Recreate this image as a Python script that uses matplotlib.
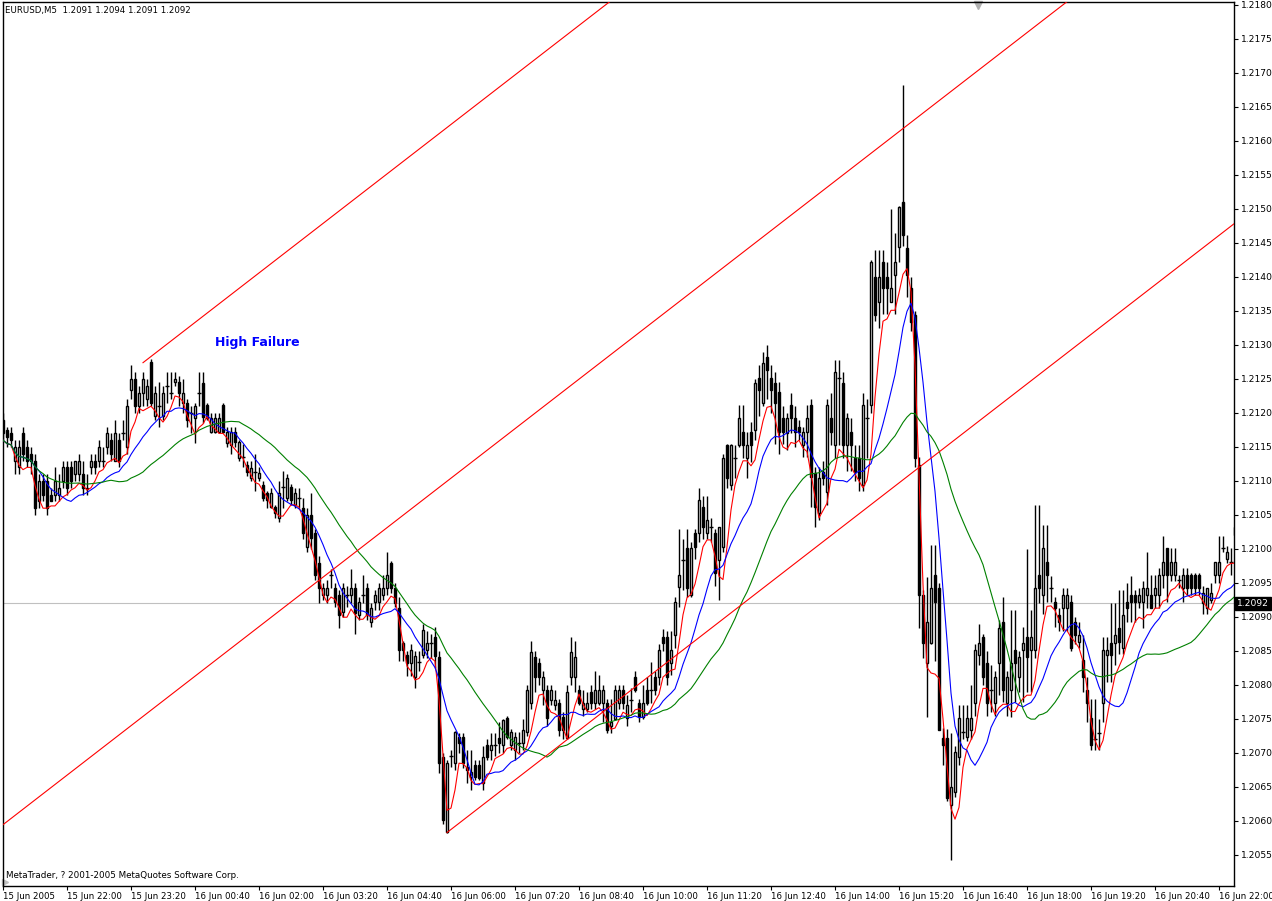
import numpy as np
import pandas as pd
import matplotlib
matplotlib.use("Agg")
import matplotlib.pyplot as plt
from matplotlib.transforms import blended_transform_factory

# EURUSD M5 bars, prices given in pips above 1.2000 (first bar = 15 Jun 20:40)
opens = [
    117, 117.5, 117, 113, 112, 117, 115, 114, 113, 107, 110, 110, 108, 108, 108, 110,
    112, 112, 111, 111, 111, 109, 112, 113, 113, 113, 115, 116, 113, 116, 117, 115,
    123.4, 125, 121, 123, 122, 127.5, 119.5, 121, 119.5, 124, 123, 124.5, 124.5, 121.5, 121.5, 120,
    119.3, 123, 124.4, 121.2, 117.2, 117.2, 117.2, 121.2, 115.6, 115.3, 117.2, 113.4, 113.5, 112.4, 110.4, 111.3,
    110.4, 109.4, 108.3, 106.2, 106.2, 104.6, 109.1, 107.5, 109.1, 106.5, 107.5, 106, 100.3, 105, 102.4, 98,
    93.2, 93.2, 96.2, 94.3, 93.2, 90.8, 93.2, 93.2, 94.3, 90.3, 93.2, 94.3, 89.3, 92.2, 92.2, 93.2,
    94.3, 98, 94.3, 91.3, 86.2, 84.4, 83.2, 81.2, 83.4, 84.4, 85.2, 86.2, 87.1, 84.1, 69.4, 58.4,
    69.5, 68.5, 72.4, 72.4, 68, 66.5, 68.2, 68.2, 65.6, 71.2, 70.4, 71.2, 72.2, 71.2, 75.1, 71.2,
    70.4, 71.5, 71.5, 73.1, 77.4, 84.1, 83.2, 79.3, 79.3, 77.8, 77.1, 77.4, 75.3, 72.2, 81.2, 81.2,
    79.3, 76.5, 76.5, 79.0, 77.4, 77.4, 77.4, 77.4, 74, 75, 77.4, 79.3, 75.1, 77.8, 81.2, 77.4,
    75.3, 79.3, 79.3, 81.2, 81.2, 87.1, 87.1, 83.2, 87.4, 94.4, 98.4, 100.1, 93.2, 102.4, 102.4, 106.2,
    102.4, 103.2, 102.4, 98.4, 100.3, 115.3, 109.4, 113.4, 115.3, 117.2, 113.4, 117.2, 117.5, 125.1, 121.5, 128.2,
    125.1, 124.4, 123.1, 119.3, 117.1, 121.2, 119.3, 118, 115.3, 117.2, 121.2, 111.2, 105.3, 111.3, 108.4, 119.3,
    115.3, 125.1, 124.4, 115.3, 117.2, 113.4, 113.4, 109.4, 119.3, 121.2, 140.0, 136.3, 142.2, 140.0, 136.3, 140.3,
    144.4, 151.0, 144.3, 138.4, 134.4, 112.4, 93.2, 83.2, 86.2, 96.2, 94.3, 72.2, 72.2, 62.4, 64.3, 69.4,
    73.1, 72.4, 73.4, 77.4, 84.4, 87.1, 83.2, 79.3, 77.4, 83.2, 89.3, 77.4, 79.3, 85.1, 81.2, 85.1,
    87.1, 85.1, 85.1, 96.2, 93.2, 98.1, 94.3, 92.2, 90.3, 91.3, 91.3, 92.2, 89.3, 86.3, 83.7, 79.3,
    75.1, 72, 73, 77.4, 84.4, 86.2, 86.2, 88.4, 85.4, 92.2, 93.2, 93.2, 92.2, 92.2, 93.2, 93.2,
    93.2, 93.2, 96.2, 100.1, 96.2, 96.2, 95.5, 94.3, 96.2, 96.2, 96.2, 96.2, 92, 91.3, 92.5, 96.2,
    96.2, 100.1, 98.5, 98.1, 102,
]
highs = [
    120, 118, 118, 116, 116, 118, 116, 115, 114, 111, 111, 111, 109, 112, 111, 113,
    113, 113, 113, 114, 113, 111, 114, 114, 116, 115, 118, 117, 119, 117, 119, 122,
    127, 126, 124, 126, 125, 128, 124, 124.5, 124, 126, 126, 126, 125.5, 125, 122, 121,
    121.5, 126, 126, 121.5, 120, 120, 120, 121.5, 118, 118, 118, 116, 115.5, 113, 113, 114,
    112, 110, 108.5, 109, 106.5, 110, 111.5, 111, 109.5, 109, 109, 107.5, 106, 108.2, 103, 99,
    95, 95.5, 97, 95, 94, 95, 94.5, 97, 95, 93, 96.2, 95, 92, 94, 95, 96.2,
    99.5, 98.3, 95, 93, 86.5, 85, 86, 85, 85, 89, 88, 87.5, 88.5, 85, 70, 69,
    70.4, 73.3, 73, 73, 70.4, 70.4, 69, 69, 71, 72, 73, 73, 74.5, 75, 75.5, 73.5,
    73.1, 73.1, 75, 80, 86.5, 85, 84, 82, 80, 80, 79.3, 78, 76, 80, 87, 86.5,
    80, 79.3, 79, 80, 82, 81.5, 80, 78, 78, 80, 80, 80, 78.5, 79.5, 82, 78,
    80, 81.2, 83.4, 82, 86, 88.2, 88, 88, 93, 103, 101.5, 103, 101, 103, 109, 107.8,
    107.8, 104.5, 103, 103.2, 114, 115.5, 115.5, 115.3, 121.2, 121.2, 117.2, 118.7, 125, 127, 129, 130,
    127, 126, 124.5, 121, 120, 123, 121, 119, 118, 121.2, 122, 112, 112, 113, 122, 123,
    127.8, 127.8, 126, 120, 119.3, 115.3, 115.3, 123, 122, 142.5, 144, 144, 144, 142.2, 150, 146.5,
    150.5, 168.2, 146.2, 140, 135, 113.5, 94, 95.9, 100.6, 100.6, 95, 73.7, 73.5, 73, 71, 77,
    77, 77, 80, 86, 89, 87.5, 85, 83, 82, 89.5, 93, 82, 91, 91, 85, 88.5,
    100, 91, 106.5, 106.5, 103.5, 103.5, 96, 93, 91.3, 94.3, 94.3, 93.2, 90, 89.3, 87.4, 81.2,
    78, 78, 75, 87, 87, 92, 92, 94, 94, 95, 96, 94, 94.3, 95.3, 99.5, 96.2,
    96.2, 97.2, 101.9, 100.1, 100.1, 100.1, 96.2, 97.2, 97.2, 96.5, 96.5, 96.5, 94.5, 94.3, 95, 98.1,
    101.9, 101.9, 100.5, 100.1, 106,
]
lows = [
    116, 115, 115, 111, 111, 113, 112, 111, 105, 106, 107, 105, 107, 107, 107, 109,
    108, 109, 110, 110, 108, 108, 111, 111, 112, 112, 114, 113, 113, 112, 116, 114,
    122, 120, 120, 121, 121, 121, 119, 118, 119, 121.5, 122, 124, 121, 120, 118, 117,
    115.6, 121, 118.5, 119, 117, 117, 117, 117, 115, 114, 115, 113, 112, 110.8, 110, 108.6,
    110, 107, 106, 106, 104.5, 104, 106, 107, 106.5, 106, 106, 101.5, 99.5, 100, 95.5, 92,
    92.5, 92, 94.3, 91.5, 88.4, 90, 91.5, 92, 87.5, 89.5, 92, 89.5, 88.5, 91, 91, 92.5,
    93.2, 93.5, 91.5, 83.5, 83.5, 81.3, 81.3, 79.6, 82, 84, 84, 84, 82.5, 67, 59.5, 58.2,
    68, 67.5, 70, 67.8, 65.6, 64.5, 66, 66, 64.5, 69, 69, 69.5, 70, 70, 72, 70.5,
    69, 70, 70.5, 72.5, 76.5, 79, 80, 77, 74, 77, 76.3, 72.5, 72, 72, 80, 79,
    77, 75.5, 76, 76.5, 76.5, 77, 74.5, 73, 73, 75, 76.5, 76.5, 74, 76, 79, 74.5,
    75, 77, 77.4, 78.5, 80, 85, 80, 81.5, 85.5, 91.5, 94, 93, 93, 98.5, 101, 101.5,
    101.5, 101, 94.5, 92.5, 99.5, 109, 108.7, 110.5, 115, 113.4, 110.5, 112.8, 116, 119.5, 121, 122,
    120, 115.5, 114, 115.5, 114.5, 117, 115, 116, 113.5, 113.5, 106.2, 103.2, 104.3, 109.4, 106.5, 115.3,
    113.4, 115.3, 113.4, 111.5, 111.5, 110, 108.5, 108.5, 113.4, 120, 133.5, 132.5, 134.5, 134.5, 136.3, 134.5,
    142.2, 144.5, 137, 132, 112, 88.4, 84, 75.3, 86, 83.5, 73.4, 68.2, 63, 54.3, 63.5, 68.2,
    72, 71.8, 72, 75.5, 83, 80, 75.5, 76, 75.5, 78.5, 77.5, 75.5, 75.3, 77.5, 79, 77.5,
    79, 79, 84, 92, 90.5, 92.2, 92.2, 88.5, 88, 88, 88, 85, 86, 85.4, 79, 74.5,
    70.5, 70.5, 70.5, 74.5, 80.5, 80.5, 83, 84.6, 84.5, 89.3, 89.3, 89.3, 91.3, 88.4, 91.3, 91.3,
    91.3, 91.3, 94.3, 92.2, 95.3, 95.3, 94.3, 92.2, 93.2, 93.2, 93.2, 93.2, 90.5, 90.5, 92, 95,
    95, 99.5, 98, 96.2, 99.5,
]
closes = [
    119, 116.5, 116, 115, 115, 114, 113, 113, 106, 110, 108, 106, 107, 110, 109, 112,
    109, 110, 113, 113, 109, 108.8, 113, 112, 115, 113, 117, 114, 117, 113, 117, 121,
    125, 121, 123, 125, 124, 121.5, 123, 121, 123, 124, 123, 125, 123, 123, 119, 120,
    121, 123, 119.4, 119.3, 119.3, 119.3, 119.3, 117.2, 117.2, 117.2, 115.7, 115.7, 113.5, 111.3, 111.9, 111.3,
    111.2, 107.5, 107.2, 108.3, 105.3, 108.2, 109.1, 110.4, 107.2, 108.2, 107.5, 102.4, 105, 101.6, 96.2, 94.3,
    94.3, 94.3, 96.2, 92.2, 90.3, 94.3, 93.2, 94.3, 90.6, 92.2, 93.2, 90.3, 91.3, 93.2, 94.3, 94.3,
    96.2, 94.3, 92, 85.2, 85.2, 83.2, 85.2, 84.2, 83.4, 88.1, 86.2, 86.2, 84.2, 68.5, 60.1, 68.5,
    69.5, 73.1, 71.5, 68.5, 67.5, 67.2, 66.5, 66.3, 69.4, 69.4, 71.2, 71.2, 71.5, 74.9, 72.4, 73.1,
    72.4, 71.5, 73.4, 79.3, 84.9, 81.2, 81.2, 81.2, 75.1, 79.3, 77.8, 73.4, 73.4, 79.0, 84.9, 84.1,
    77.4, 77.4, 77.4, 77.4, 79.3, 79.3, 79.3, 73.4, 74.5, 79.3, 79.3, 77.4, 77.1, 77.8, 79.3, 75.3,
    77.4, 77.4, 79.3, 79.3, 85.1, 86.2, 81.2, 85.1, 92.2, 96.2, 98.4, 94.3, 100.1, 100.3, 107.2, 103.2,
    104.3, 103.2, 96.5, 103.2, 113.4, 110.4, 115.3, 113.4, 119.3, 115.3, 115.3, 115.3, 124.4, 123.4, 127.4, 126.3,
    123.4, 121.5, 117.2, 117.2, 119.3, 119.3, 117.2, 117.2, 117.2, 119.3, 110.6, 106.2, 110.4, 110.4, 121.2, 117.2,
    126.0, 125.1, 115.3, 119.3, 115.3, 111.3, 110.4, 121.2, 119.3, 142.2, 134.4, 140.0, 138.4, 138.4, 138.4, 142.2,
    150.3, 146.2, 140.3, 133.4, 113.4, 93.2, 86.2, 89.3, 94.3, 92.2, 73.4, 71.2, 63.4, 65.0, 70.1, 75.1,
    73.1, 75.1, 75.1, 85.1, 86.2, 81.2, 77.4, 79.3, 81.2, 88.4, 79.3, 81.2, 83.2, 83.2, 84.1, 86.2,
    84.1, 87.1, 94.3, 94.3, 100.1, 96.2, 94.3, 91.3, 89.3, 93.2, 93.2, 85.4, 87.4, 87.4, 81.2, 77.4,
    71.2, 72, 73, 85.1, 85.1, 84.4, 87.4, 86.3, 90.3, 91.3, 92.2, 92.2, 93.2, 94.3, 94.3, 91.3,
    94.3, 96.2, 98.1, 96.2, 98.1, 98.1, 95.5, 96.2, 94.3, 94.3, 94.3, 94.3, 93.5, 94.3, 93.5, 98.1,
    98.1, 100.1, 99.5, 98.1, 103.2,
]

time_labels = ["15 Jun 2005", "15 Jun 22:00", "15 Jun 23:20", "16 Jun 00:40", "16 Jun 02:00",
               "16 Jun 03:20", "16 Jun 04:40", "16 Jun 06:00", "16 Jun 07:20", "16 Jun 08:40",
               "16 Jun 10:00", "16 Jun 11:20", "16 Jun 12:40", "16 Jun 14:00", "16 Jun 15:20",
               "16 Jun 16:40", "16 Jun 18:00", "16 Jun 19:20", "16 Jun 20:40", "16 Jun 22:00"]
label_step = 16  # one label every 16 bars

# channel lines (anchor bar, anchor price in pips, slope pips per bar)
chan_bar = [35, -1, 111]
chan_price = [127.4, 59.0, 58.3]
chan_slope = 0.455

bid = 1.2092
ma_periods = [3, 10, 28]
ma_colors = ["#ff0000", "#0000ff", "#008000"]

n = min(len(opens), len(highs), len(lows), len(closes))
o = 1.2 + np.array(opens[:n]) / 10000
h = 1.2 + np.array(highs[:n]) / 10000
l = 1.2 + np.array(lows[:n]) / 10000
c = 1.2 + np.array(closes[:n]) / 10000
x = np.arange(n)

W, H = 1272, 901
fig = plt.figure(figsize=(W / 100, H / 100), dpi=100)
ax = fig.add_axes([3 / W, 15 / H, 1231 / W, 884 / H])

ax.axhline(bid, color="#c0c0c0", lw=0.8, zorder=1)

# candles
ax.vlines(x, l, h, color="black", lw=1.0, zorder=2)
up = c > o
dn = c < o
eq = c == o
ax.bar(x[up], (c - o)[up], bottom=o[up], width=0.55, facecolor="white",
       edgecolor="black", linewidth=1.0, zorder=2)
ax.bar(x[dn], (o - c)[dn], bottom=c[dn], width=0.55, facecolor="black",
       edgecolor="black", linewidth=1.0, zorder=2)
ax.hlines(c[eq], x[eq] - 0.4, x[eq] + 0.4, color="black", lw=1.0, zorder=2)

# moving averages on the low price
low_s = pd.Series(l)
for p, col in zip(ma_periods, ma_colors):
    ax.plot(x, low_s.rolling(p, min_periods=1).mean(), color=col, lw=0.8, zorder=3)

# channel
for b0, p0 in zip(chan_bar, chan_price):
    xs = np.array([b0, 400])
    ax.plot(xs, 1.2 + (p0 + (xs - b0) * chan_slope) / 10000, color="#ff0000", lw=0.8, zorder=3)

ax.text(53, 1.21303, "High Failure", color="#0000ff", fontweight="bold",
        fontsize=9, ha="left", va="center", zorder=4)

ax.set_xlim(0, 307.75)
ax.set_ylim(1.205044, 1.218044)

yt = np.arange(1.2055, 1.21801, 0.0005)
ax.yaxis.tick_right()
ax.set_yticks(yt)
ax.set_yticklabels(["%.4f" % v for v in yt])
ax.tick_params(axis="y", direction="out", length=3, width=0.8, pad=2, labelsize=6.6)

xt = np.arange(len(time_labels)) * label_step
ax.set_xticks(xt)
ax.set_xticklabels(time_labels, ha="left")
ax.tick_params(axis="x", direction="out", length=3, width=0.8, pad=1, labelsize=6.2)

for s in ax.spines.values():
    s.set_linewidth(1.0)
    s.set_color("black")

tr = blended_transform_factory(ax.transAxes, ax.transData)
ax.text(1.0025, bid, "%.4f" % bid, transform=tr, color="white", fontsize=6.6,
        ha="left", va="center", bbox=dict(facecolor="black", edgecolor="black", pad=1.2))

fig.text(5 / W, 1 - 10 / H, "EURUSD,M5  1.2091 1.2094 1.2091 1.2092", fontsize=6.2,
         ha="left", va="center")
fig.text(6 / W, 1 - 876 / H, "MetaTrader, ? 2001-2005 MetaQuotes Software Corp.",
         fontsize=6.3, ha="left", va="center")

ax.plot([0.7918], [0.997], marker="v", color="#b0b0b0", markersize=6,
        transform=ax.transAxes, clip_on=False)
ax.plot([0.002], [0.004], marker=">", color="#c0c0c0", markersize=4,
        transform=ax.transAxes, clip_on=False)

fig.savefig("out.png", dpi=100, facecolor="white")
